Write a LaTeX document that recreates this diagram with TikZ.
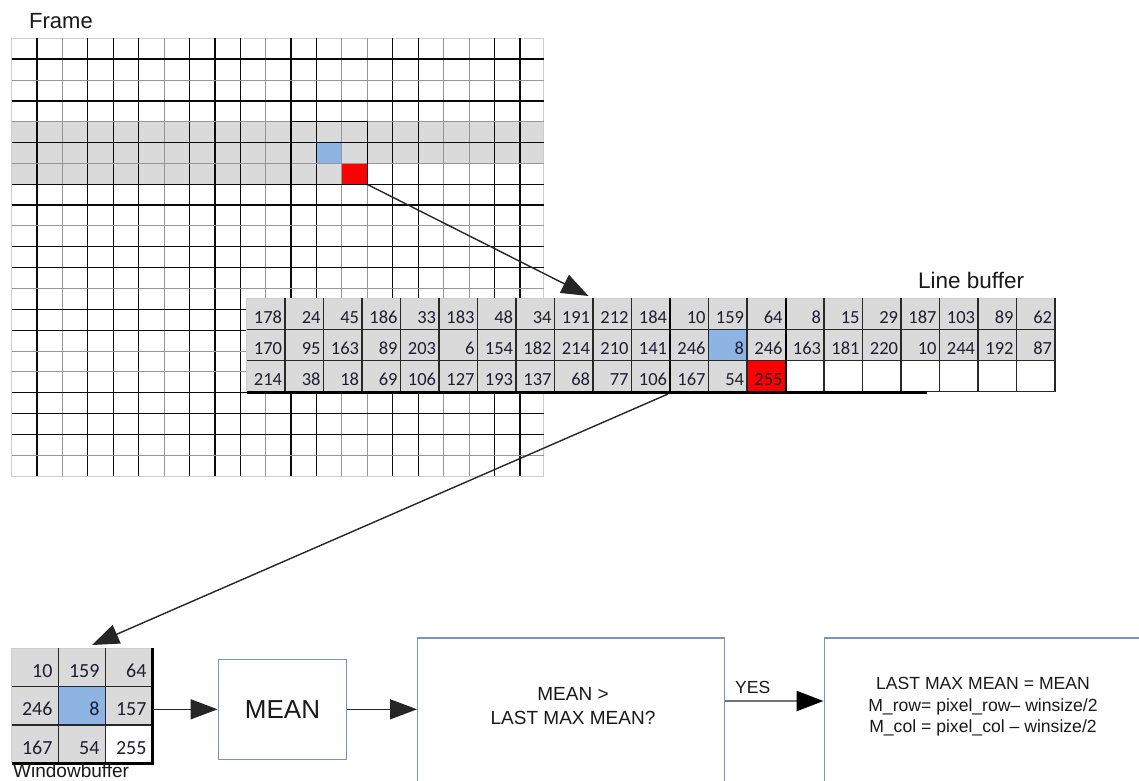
\documentclass[tikz,border=0pt]{standalone}
\usepackage{fontspec}
\setmainfont{Liberation Sans}
\newfontfamily\cellfont{Carlito}
\usetikzlibrary{arrows.meta}

\definecolor{cellgray}{RGB}{218,218,218}
\definecolor{cellblue}{RGB}{141,180,226}
\definecolor{cellred}{RGB}{255,0,0}
\definecolor{gridlight}{RGB}{150,150,150}
\definecolor{gridfaint}{RGB}{205,205,205}
\definecolor{griddark}{RGB}{10,10,10}
\definecolor{bufink}{RGB}{40,40,40}
\definecolor{boxblue}{RGB}{118,148,198}
\definecolor{numink}{RGB}{30,30,50}
\definecolor{txtink}{RGB}{25,25,25}

\begin{document}
\begin{tikzpicture}[x=1pt,y=-1pt,
  darkline/.style={draw=griddark,line width=1.35pt},
  lightline/.style={draw=gridlight,line width=1pt},
  bufline/.style={draw=bufink,line width=1.5pt},
  num/.style={anchor=base east,inner sep=0pt,text=numink,
              font=\cellfont\fontsize{18.5}{18.5}\selectfont},
  wnum/.style={anchor=base east,inner sep=0pt,text=numink,
              font=\cellfont\fontsize{20}{20}\selectfont},
  label/.style={anchor=base west,inner sep=0pt,text=txtink},
  fbox/.style={draw=boxblue,line width=1.4pt,inner sep=0pt,fill=white},
  arr/.style={draw=black!85,line width=1.4pt,
              -{Triangle[length=27pt,width=20pt]}},
  ]
\useasboundingbox (0,0) rectangle (1139,780);
\clip (0,0) rectangle (1139,780);

% ---------------- frame grid ----------------
\def\FL{11.5}\def\FT{38.3}\def\CW{25.42}\def\RH{20.85}
\def\FR{543.5}\def\FB{476.2}
\node[label,font=\fontsize{22}{22}\selectfont] (framelbl) at (29,28) {Frame};

% buffered rows (shaded) and current window pixels
\fill[cellgray] (\FL,{\FT+4*\RH}) rectangle (\FR,{\FT+6*\RH});
\fill[cellgray] (\FL,{\FT+6*\RH}) rectangle ({\FL+14*\CW},{\FT+7*\RH});
\fill[cellblue] ({\FL+12*\CW},{\FT+5*\RH}) rectangle ++(\CW,\RH);
\node[anchor=north west,inner sep=0pt,minimum width=25.42pt,minimum height=20.85pt,
      fill=cellred] (redcell) at ({\FL+13*\CW},{\FT+6*\RH}) {};

\draw[draw=gridfaint,line width=0.9pt] (\FL,\FT) rectangle (\FR,\FB);
\foreach \k/\s in {1/darkline,2/lightline,3/darkline,4/darkline,5/darkline,
                   6/lightline,7/darkline,8/darkline,9/darkline,10/lightline,
                   11/darkline,12/darkline,13/lightline,14/lightline,15/darkline,
                   16/darkline,17/lightline,18/lightline,19/darkline,20/darkline}
  \draw[\s] ({\FL+\k*\CW},\FT) -- ({\FL+\k*\CW},\FB);
\foreach \k/\s in {1/darkline,2/lightline,3/darkline,4/lightline,5/darkline,
                   6/lightline,7/darkline,8/darkline,9/lightline,10/darkline,
                   11/darkline,12/lightline,13/darkline,14/darkline,15/lightline,
                   16/lightline,17/darkline,18/darkline,19/darkline,20/lightline}
  \draw[\s] (\FL,{\FT+\k*\RH}) -- (\FR,{\FT+\k*\RH});
% 3x3 window outline
\draw[draw=black,line width=1.5pt] ({\FL+11*\CW},{\FT+4*\RH}) rectangle ({\FL+14*\CW},{\FT+7*\RH});

% ---------------- line buffer ----------------
\def\LL{246.7}\def\LT{298.3}\def\LW{38.5}\def\LH{31.2}
\def\LR{1055.2}\def\LB{391.9}
\node[label,font=\fontsize{22.5}{22.5}\selectfont] (lblbl) at (918,288) {Line buffer};
\node[anchor=north west,inner sep=0pt,minimum width=808.5pt,minimum height=93.6pt,
      fill=white] (linebuf) at (\LL,\LT) {};
\fill[cellgray] (\LL,\LT) rectangle (\LR,{\LT+2*\LH});
\fill[cellgray] (\LL,{\LT+2*\LH}) rectangle ({\LL+14*\LW},\LB);
\fill[cellblue] ({\LL+12*\LW},{\LT+\LH}) rectangle ++(\LW,\LH);
\fill[cellred] ({\LL+13*\LW},{\LT+2*\LH}) rectangle ++(\LW,\LH);
\draw[draw=gridfaint,line width=1pt] (\LL,\LB) -- (\LL,\LT) -- (\LR,\LT);
\foreach \k in {1,...,21}
  \draw[bufline] ({\LL+\k*\LW},\LT) -- ({\LL+\k*\LW},\LB);
\foreach \k in {11,14}
  \draw[draw=black,line width=2.2pt] ({\LL+\k*\LW},\LT) -- ({\LL+\k*\LW},\LB);
\foreach \r in {1,2}
  \draw[bufline] (\LL,{\LT+\r*\LH}) -- (\LR,{\LT+\r*\LH});
\draw[bufline,line width=1pt] (927,\LB) -- (\LR,\LB);
\draw[draw=black,line width=2.8pt] (\LL,{\LB+0.6}) -- (927,{\LB+0.6});

\foreach \v [count=\i from 0] in {178,24,45,186,33,183,48,34,191,212,184,10,159,64,8,15,29,187,103,89,62}
  \node[num] at ({\LL+(\i+1)*\LW-3},{\LT+\LH-6.5}) {\v};
\foreach \v [count=\i from 0] in {170,95,163,89,203,6,154,182,214,210,141,246,8,246,163,181,220,10,244,192,87}
  \node[num] at ({\LL+(\i+1)*\LW-3},{\LT+2*\LH-6.5}) {\v};
\foreach \v [count=\i from 0] in {214,38,18,69,106,127,193,137,68,77,106,167,54,255}
  \node[num] at ({\LL+(\i+1)*\LW-3},{\LT+3*\LH-6.5}) {\v};

\coordinate (lbin) at (588.5,296);
\coordinate (lbout) at (668,394);

% ---------------- window buffer ----------------
\def\WL{11.7}\def\WT{648.3}\def\WW{47}\def\WH{38.3}
\def\WR{152.7}\def\WB{763.2}
\node[anchor=north west,inner sep=0pt,minimum width=141pt,minimum height=114.9pt,
      fill=cellgray] (winbuf) at (\WL,\WT) {};
\fill[cellblue] ({\WL+\WW},{\WT+\WH}) rectangle ++(\WW,\WH);
\fill[white] ({\WL+2*\WW},{\WT+2*\WH}) rectangle ++(\WW,\WH);
\draw[draw=gridfaint,line width=1pt] (\WL,\WB) -- (\WL,\WT) -- (\WR,\WT);
\foreach \k in {1,2}{
  \draw[bufline] ({\WL+\k*\WW},\WT) -- ({\WL+\k*\WW},\WB);
  \draw[bufline] (\WL,{\WT+\k*\WH}) -- (\WR,{\WT+\k*\WH});
}
\draw[draw=black,line width=2.8pt] (\WR,\WT) -- (\WR,{\WB+1.4});
\draw[draw=black,line width=2.8pt] (\WL,\WB) -- ({\WR+1.4},\WB);
\foreach \v [count=\i from 0] in {10,159,64}
  \node[wnum] at ({\WL+(\i+1)*\WW-6},{\WT+\WH-9}) {\v};
\foreach \v [count=\i from 0] in {246,8,157}
  \node[wnum] at ({\WL+(\i+1)*\WW-6},{\WT+2*\WH-9}) {\v};
\foreach \v [count=\i from 0] in {167,54,255}
  \node[wnum] at ({\WL+(\i+1)*\WW-6},{\WT+3*\WH-9}) {\v};
\node[label,font=\fontsize{19}{19}\selectfont] (wblbl) at (13,777.5) {Windowbuffer};
\coordinate (winin) at (92,645);

% ---------------- processing chain ----------------
\node[fbox,minimum width=128.4pt,minimum height=100pt,
      font=\fontsize{26}{26}\selectfont,text=txtink] (mean) at (282.5,709.3) {MEAN};
\node[fbox,anchor=north west,minimum width=307pt,minimum height=160pt] (decide) at (417,637.3) {};
\node[align=center,inner sep=0pt,text=txtink,font=\fontsize{19}{24}\selectfont]
  (decidetxt) at (573,706.5) {MEAN >\\LAST MAX MEAN?};
\node[fbox,anchor=north west,minimum width=340pt,minimum height=160pt] (result) at (823.5,637.3) {};
\node[align=center,inner sep=0pt,text=txtink,font=\fontsize{17.6}{21.5}\selectfont]
  (resulttxt) at (983,707) {LAST MAX MEAN = MEAN\\M\_row= pixel\_row-- winsize/2\\M\_col = pixel\_col -- winsize/2};
\coordinate (yesrow) at (0,701);

% ---------------- connectors ----------------
\draw[arr] (redcell.south east) -- (lbin);
\draw[arr] (lbout) -- (winin);
\draw[arr] (winbuf.east |- mean.west) -- (mean.west);
\draw[arr] (mean.east) -- (decide.west |- mean.east);
\draw[draw=black!55,line width=2.4pt,-{Triangle[length=27pt,width=20pt,color=black]}]
  (decide.east |- yesrow) -- (result.west |- yesrow);
\node[label,font=\fontsize{17.5}{17.5}\selectfont] (yes) at (735,693) {YES};
\end{tikzpicture}
\end{document}
